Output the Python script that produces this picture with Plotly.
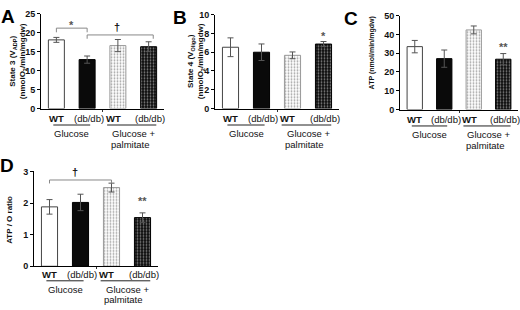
import plotly.graph_objects as go

W, H = 520, 310

# ---------------- data ----------------
conditions = ["WT", "(db/db)", "WT", "(db/db)"]
group_labels = ["Glucose", "Glucose +", "palmitate"]

state3 = [18.1, 12.9, 16.6, 16.3]
state3_err = [0.65, 0.95, 1.6, 1.3]
state4 = [6.53, 6.0, 5.67, 6.87]
state4_err = [1.0, 0.88, 0.36, 0.27]
atp = [33.5, 27.1, 42.4, 26.8]
atp_err = [3.3, 4.6, 2.1, 3.0]
ratio = [1.88, 2.02, 2.49, 1.54]
ratio_err = [0.23, 0.26, 0.14, 0.15]

y_titles = ["State 3 (V<sub>ADP</sub>)<br>(nmolO<sub>2</sub>/min/mgdw)",
            "State 4 (V<sub>Oligo</sub>)<br>(nmolO<sub>2</sub>/min/mgdw)",
            "ATP (nmol/min/mgdw)",
            "ATP / O ratio"]
panel_letters = ["A", "B", "C", "D"]
y_max = [25, 10, 50, 3]
y_dtick = [5, 2, 10, 1]

FONT = "Liberation Sans, Arial, sans-serif"

def px(x):
    return x / W

def py(y):
    return 1 - y / H

# panel pixel boxes: (x0, x1, ytop, ybottom)
boxes = [(41, 164, 9, 107), (215, 339, 10, 107), (400, 518, 11, 108), (34, 158, 172, 270)]

values = [state3, state4, atp, ratio]
errors = [state3_err, state4_err, atp_err, ratio_err]

fill_colors = ["white", "#0a0a0a", "white", "#0a0a0a"]
line_colors = ["#444444", "#000000", "#9a9a9a", "#000000"]
pat_shapes = ["", "", ".", "."]
pat_fg = ["#000000", "#000000", "#cccccc", "#4a4a4a"]
pat_bg = ["white", "#0a0a0a", "white", "#0a0a0a"]

fig = go.Figure()
annotations = []
shapes = []

for k in range(4):
    ax = "" if k == 0 else str(k + 1)
    xa, ya = "x" + ax, "y" + ax
    x0, x1, yt, yb = boxes[k]
    fig.add_trace(go.Bar(
        x=[0, 1, 2, 3], y=values[k], width=0.52,
        xaxis=xa, yaxis=ya, showlegend=False, hoverinfo="skip",
        marker=dict(color=fill_colors, line=dict(color=line_colors, width=1),
                    pattern=dict(shape=pat_shapes, fgcolor=pat_fg, bgcolor=pat_bg,
                                 size=3, solidity=0.3)),
        error_y=dict(type="data", array=errors[k], color="#555555", thickness=1, width=3),
    ))
    fig.update_layout(**{
        "xaxis" + ax: dict(domain=[px(x0), px(x1)], range=[-0.5, 3.5], anchor=ya,
                           showline=True, linecolor="black", linewidth=1,
                           tickvals=[1.5], ticks="outside", ticklen=2, tickcolor="#333",
                           showticklabels=False, showgrid=False, zeroline=False,
                           fixedrange=True),
        "yaxis" + ax: dict(domain=[py(yb), py(yt)], range=[0, y_max[k]], dtick=y_dtick[k],
                           anchor=xa, showline=True, linecolor="black", linewidth=1,
                           ticks="outside", ticklen=3, tickcolor="black",
                           tickfont=dict(family=FONT, size=9, color="#111", weight="bold"),
                           showgrid=False, zeroline=False, fixedrange=True),
    })
    # label offsets below axis (pixels)
    offs = (10, 17, 26, 37) if k < 3 else (8, 15, 24, 34)
    cond_x = [0, 1.05, 1.85, 3.05]
    for i, c in enumerate(conditions):
        annotations.append(dict(x=cond_x[i], y=py(yb + offs[0]), xref=xa, yref="paper",
                                text=c, showarrow=False, xanchor="center", yanchor="middle",
                                font=dict(family=FONT, size=9.5, color="#111",
                                          weight="bold" if c == "WT" else "normal")))
    shapes.append(dict(type="line", xref=xa, yref="paper", x0=-0.1, x1=1.1,
                       y0=py(yb + offs[1]), y1=py(yb + offs[1]), line=dict(color="#222", width=1)))
    shapes.append(dict(type="line", xref=xa, yref="paper", x0=1.65, x1=3.25,
                       y0=py(yb + offs[1]), y1=py(yb + offs[1]), line=dict(color="#222", width=1)))
    for gx, gy, gt in [(0.5, offs[2], group_labels[0]), (2.5, offs[2], group_labels[1]),
                       (2.4, offs[3], group_labels[2])]:
        annotations.append(dict(x=gx, y=py(yb + gy), xref=xa, yref="paper", text=gt,
                                showarrow=False, xanchor="center", yanchor="middle",
                                font=dict(family=FONT, size=9.5, color="#111")))

# y-axis titles (pixel x centres)
title_pos = [(18, 58), (196, 58), (372, 50), (10, 222)]
title_sizes = [8, 8, 7, 8]
for k in range(4):
    annotations.append(dict(x=px(title_pos[k][0]), y=py(title_pos[k][1]), xref="paper", yref="paper",
                            text=y_titles[k], textangle=-90, showarrow=False,
                            xanchor="center", yanchor="middle",
                            font=dict(family=FONT, size=title_sizes[k], color="#111", weight="bold")))

# panel letters
letter_pos = [(8, 12), (180, 13), (351, 14), (7, 166)]
for k in range(4):
    annotations.append(dict(x=px(letter_pos[k][0]), y=py(letter_pos[k][1]), xref="paper", yref="paper",
                            text=panel_letters[k], showarrow=False, xanchor="center", yanchor="middle",
                            font=dict(family=FONT, size=19, color="black", weight="bold")))

# significance marks
def bracket(xa, ya, xa0, xa1, ytop, ybot):
    shapes.append(dict(type="path", xref=xa, yref=ya,
                       path=f"M {xa0},{ybot} L {xa0},{ytop} L {xa1},{ytop} L {xa1},{ybot}",
                       line=dict(color="#888888", width=1)))

bracket("x", "y", 0, 1, 21.2, 20.1)
bracket("x", "y", 1, 3.15, 19.4, 18.4)
bracket("x4", "y4", 0, 2, 2.73, 2.62)

marks = [("x", "y", 0.5, 22.1, "*", "#555"), ("x", "y", 1.96, 21.6, "†", "#111"),
         ("x2", "y2", 3, 7.75, "*", "#555"), ("x3", "y3", 3, 33.2, "**", "#555"),
         ("x4", "y4", 0.82, 2.97, "†", "#111"), ("x4", "y4", 3, 2.07, "**", "#555")]
for xa, ya, x, y, t, col in marks:
    annotations.append(dict(x=x, y=y, xref=xa, yref=ya, text=t, showarrow=False,
                            xanchor="center", yanchor="middle",
                            font=dict(family=FONT, size=11, color=col, weight="bold")))

fig.update_layout(width=W, height=H, margin=dict(l=0, r=0, t=0, b=0),
                  paper_bgcolor="white", plot_bgcolor="white",
                  annotations=annotations, shapes=shapes, bargap=0.48)

fig.write_html("out.html", config={"displayModeBar": False},
               post_script="document.body.style.margin='0';document.body.style.overflow='hidden';")
